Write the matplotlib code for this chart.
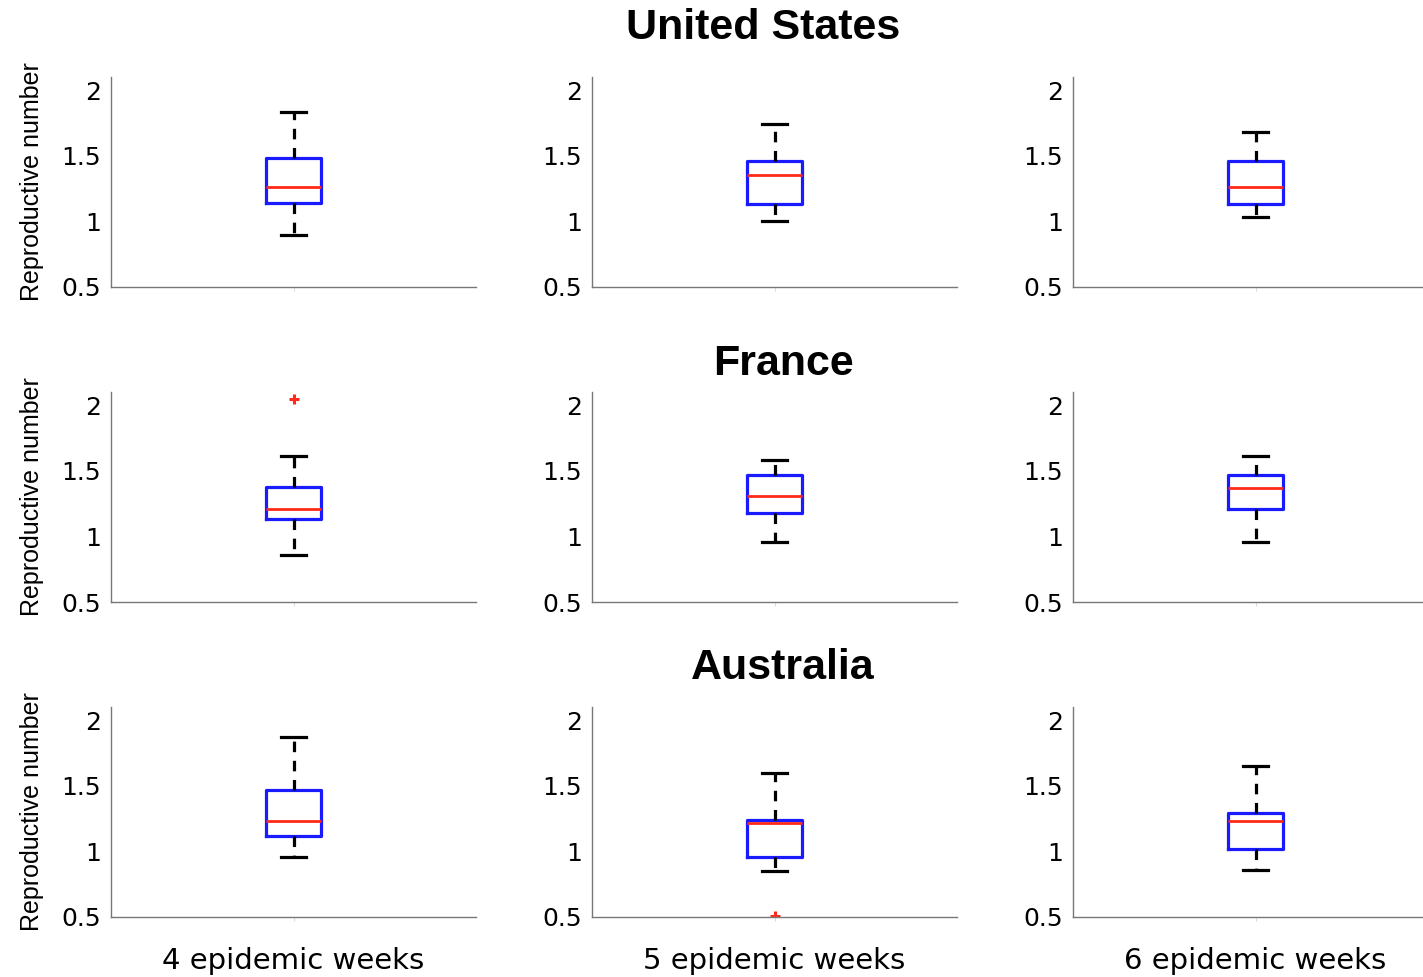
import matplotlib
matplotlib.use("Agg")
import matplotlib.pyplot as plt

# ======================================================
# Data
# ======================================================

countries = ["United States", "France", "Australia"]
windows = ["4 epidemic weeks", "5 epidemic weeks", "6 epidemic weeks"]

# rows = countries, cols = windows
whisker_low = [[0.90, 1.00, 1.03],
               [0.86, 0.96, 0.96],
               [0.96, 0.85, 0.86]]
q1 = [[1.14, 1.13, 1.13],
      [1.13, 1.18, 1.21],
      [1.12, 0.96, 1.02]]
median = [[1.26, 1.35, 1.26],
          [1.21, 1.31, 1.37],
          [1.23, 1.22, 1.23]]
q3 = [[1.48, 1.46, 1.46],
      [1.38, 1.47, 1.47],
      [1.47, 1.24, 1.29]]
whisker_high = [[1.83, 1.74, 1.68],
                [1.61, 1.58, 1.61],
                [1.87, 1.60, 1.65]]
outliers = [[[], [], []],
            [[2.05], [], []],
            [[], [0.51], []]]

yticks = [0.5, 1, 1.5, 2]
ytick_labels = ["0.5", "1", "1.5", "2"]

# ======================================================
# Layout
# ======================================================

W, H = 1423, 977
fig = plt.figure(figsize=(W / 100, H / 100), dpi=100)

col_left = [111, 592, 1073]
col_width = 365      # third column runs past the right edge, as in the original
row_bottom = [287, 602, 917]
row_height = 210

title_pos = [(763, 28), (783, 364), (783, 668)]

for r in range(3):
    for c in range(3):
        ax = fig.add_axes([col_left[c] / W, 1 - row_bottom[r] / H,
                           col_width / W, row_height / H])
        stats = [{
            "whislo": whisker_low[r][c],
            "q1": q1[r][c],
            "med": median[r][c],
            "q3": q3[r][c],
            "whishi": whisker_high[r][c],
            "fliers": outliers[r][c],
        }]
        ax.bxp(stats, positions=[1], widths=0.153, capwidths=0.07,
               boxprops=dict(color="#1a1aff", linewidth=2.3),
               medianprops=dict(color="#ff2a1a", linewidth=2.0),
               whiskerprops=dict(color="black", linewidth=2.3,
                                 linestyle=(0, (3.3, 2.7))),
               capprops=dict(color="black", linewidth=2.3),
               flierprops=dict(marker="+", markeredgecolor="#ff2a1a",
                               markersize=7, markeredgewidth=2.2),
               manage_ticks=False)

        ax.set_xlim(0.5, 1.5)
        ax.set_ylim(0.5, 2.1)
        ax.set_yticks(yticks)
        ax.set_yticklabels(ytick_labels)
        ax.set_xticks([1])
        ax.set_xticklabels([""])
        ax.tick_params(axis="y", direction="in", length=0, pad=7, labelsize=18)
        ax.tick_params(axis="x", direction="out", length=3, color="#dddddd")

        for s in ["top", "right"]:
            ax.spines[s].set_visible(False)
        for s in ["left", "bottom"]:
            ax.spines[s].set_color("#777777")
            ax.spines[s].set_linewidth(1.0)

        if c == 0:
            ax.set_ylabel("Reproductive number", fontsize=18,
                          family="Liberation Sans")
            ax.yaxis.set_label_coords(-67 / col_width, 0.5)
        if r == 2:
            ax.set_xlabel(windows[c], fontsize=21, va="center")
            ax.xaxis.set_label_coords(0.5, -44 / row_height)

for name, (tx, ty) in zip(countries, title_pos):
    fig.text(tx / W, 1 - ty / H, name, fontsize=31, fontweight="bold",
             family="Liberation Sans", ha="center", va="center")

fig.savefig("out.png", dpi=100)
